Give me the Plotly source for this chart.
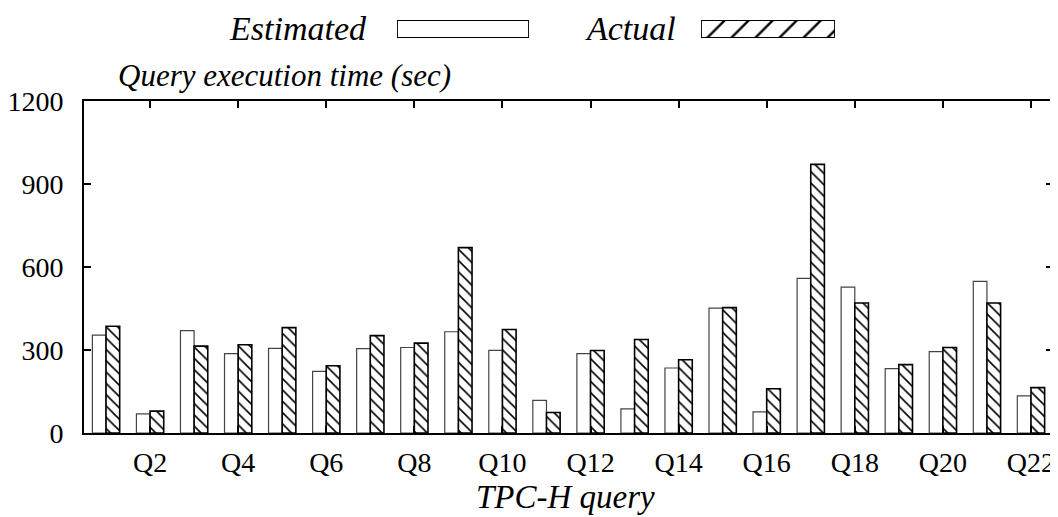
import plotly.graph_objects as go

categories = ["Q%d" % i for i in range(1, 23)]
estimated = [354, 69, 370, 287, 306, 223, 305, 309, 366, 299, 118, 287, 87, 235, 451, 76, 559, 527, 233, 294, 548, 134]
actual = [386, 79, 314, 319, 381, 243, 352, 325, 670, 374, 74, 298, 338, 265, 453, 160, 971, 470, 247, 309, 470, 164]
x_tick_labels = ["Q%d" % i for i in range(2, 23, 2)]
y_ticks = [0, 300, 600, 900, 1200]
series_names = ["Estimated", "Actual"]

# page body has an 8px margin; figure sits at (8, 8) in the screenshot
OFF = 8
W, H = 1058 - OFF, 517 - OFF
ML = 84 - OFF
MR = W - (1053 - OFF)
MB = H - (433 - OFF)
MT = 4
PW = W - ML - MR
PH = H - MT - MB

def px_x(x):
    return (x - OFF - ML) / PW

def px_y(y):
    return (H - MB - (y - OFF)) / PH

FONT = "Liberation Serif"

fig = go.Figure()
fig.add_trace(go.Bar(
    x=categories, y=estimated, name=series_names[0],
    marker=dict(color="white", line=dict(color="#444", width=1.2)),
    showlegend=False, xaxis="x", yaxis="y",
))
fig.add_trace(go.Bar(
    x=categories, y=actual, name=series_names[1],
    marker=dict(color="white", line=dict(color="black", width=1.6),
                pattern=dict(shape="\\", size=8, solidity=0.2,
                             fgcolor="black", bgcolor="white")),
    showlegend=False, xaxis="x", yaxis="y",
))

# legend swatches drawn as bars in small helper axes
fig.add_trace(go.Bar(
    x=[1], y=[series_names[0]], orientation="h", width=1,
    marker=dict(color="white", line=dict(color="black", width=1.8)),
    showlegend=False, xaxis="x2", yaxis="y2", hoverinfo="skip",
))
fig.add_trace(go.Bar(
    x=[1], y=[series_names[1]], orientation="h", width=1,
    marker=dict(color="white", line=dict(color="black", width=1.8),
                pattern=dict(shape="/", size=17, solidity=0.14,
                             fgcolor="black", bgcolor="white")),
    showlegend=False, xaxis="x3", yaxis="y3", hoverinfo="skip",
))

main_top = px_y(101)
leg_y = [px_y(38), px_y(20)]

fig.update_layout(
    template="none",
    width=W, height=H,
    margin=dict(l=ML, r=MR, t=MT, b=MB, pad=0, autoexpand=False),
    paper_bgcolor="white", plot_bgcolor="white",
    font=dict(family=FONT, color="black", size=28),
    barmode="group", bargap=0.38, bargroupgap=0.0,
    xaxis=dict(domain=[0, 1], categoryorder="array", categoryarray=categories,
               tickmode="array", tickvals=x_tick_labels, ticktext=x_tick_labels,
               ticks="inside", ticklen=7, tickwidth=1.5, tickcolor="black",
               showline=True, linecolor="black", linewidth=2, mirror="ticks",
               showgrid=False, zeroline=False, ticklabelstandoff=3, automargin=False,
               tickfont=dict(family=FONT, size=28), anchor="y"),
    yaxis=dict(domain=[0, main_top], range=[0, 1200],
               tickmode="array", tickvals=y_ticks, ticktext=[str(v) for v in y_ticks],
               ticks="inside", ticklen=7, tickwidth=1.5, tickcolor="black",
               showline=True, linecolor="black", linewidth=2, mirror="ticks",
               showgrid=False, zeroline=False, ticklabelstandoff=13, automargin=False,
               tickfont=dict(family=FONT, size=28), anchor="x"),
    xaxis2=dict(domain=[px_x(397), px_x(529)], range=[0, 1], visible=False,
                fixedrange=True, anchor="y2", automargin=False),
    yaxis2=dict(domain=leg_y, range=[-0.5, 0.5], visible=False,
                fixedrange=True, anchor="x2", automargin=False),
    xaxis3=dict(domain=[px_x(701), px_x(835)], range=[0, 1], visible=False,
                fixedrange=True, anchor="y3", automargin=False),
    yaxis3=dict(domain=leg_y, range=[-0.5, 0.5], visible=False,
                fixedrange=True, anchor="x3", automargin=False),
    annotations=[
        dict(text="<i>Query execution time (sec)</i>", x=px_x(116), y=px_y(75),
             xref="paper", yref="paper", xanchor="left", yanchor="middle",
             showarrow=False, font=dict(family=FONT, size=31)),
        dict(text="<i>TPC-H query</i>", x=px_x(565), y=px_y(497),
             xref="paper", yref="paper", xanchor="center", yanchor="middle",
             showarrow=False, font=dict(family=FONT, size=33)),
        dict(text="<i>%s</i>" % series_names[0], x=px_x(369), y=px_y(28),
             xref="paper", yref="paper", xanchor="right", yanchor="middle",
             showarrow=False, font=dict(family=FONT, size=34)),
        dict(text="<i>%s</i>" % series_names[1], x=px_x(678), y=px_y(28),
             xref="paper", yref="paper", xanchor="right", yanchor="middle",
             showarrow=False, font=dict(family=FONT, size=34)),
    ],
)

fig.write_html("out.html")
